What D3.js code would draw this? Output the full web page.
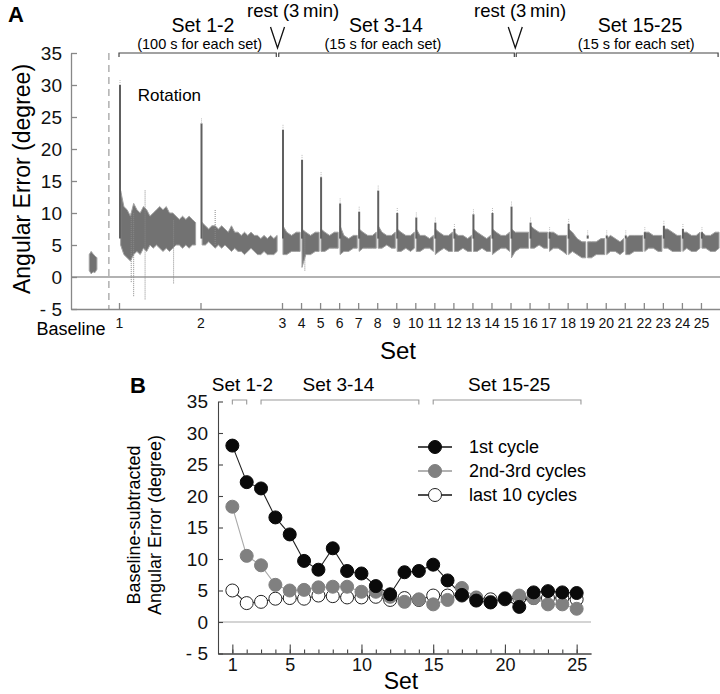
<!DOCTYPE html>
<html>
<head>
<meta charset="utf-8">
<script src="https://cdn.jsdelivr.net/npm/d3@7"></script>
<style>
body { margin: 0; background: #fff; }
svg { font-family: Arial, "Liberation Sans", sans-serif; }
</style>
</head>
<body>
<div id="chart"></div>
<script>
/* angular error over sets: raw trace (A) and per-set summary (B) */

// ---- panel A data ----
const setTicks = [1,2,3,4,5,6,7,8,9,10,11,12,13,14,15,16,17,18,19,20,21,22,23,24,25];
const yTicks = [-5,0,5,10,15,20,25,30,35];

// baseline block (position in set units, before set 1)
const baseT  = [0.38, 0.42, 0.46, 0.50, 0.54];
const baseLo = [1, 0.5, 0.8, 0.7, 1.2];
const baseHi = [3.5, 4, 3.6, 3.3, 3];

// sets 1-2 (100 s each): offsets within the set
const longOffsets = [0.02,0.06,0.10,0.14,0.18,0.22,0.26,0.30,0.34,0.38,0.42,0.46,
                     0.50,0.54,0.58,0.62,0.66,0.70,0.74,0.78,0.82,0.86,0.90,0.94];
const set1Lo = [5,3.5,3,2.5,3.5,4,3.5,4.5,4,5,4.5,5,4.5,4,4.5,4,4.5,5,5,4.5,5,4.5,5,5];
const set1Hi = [13.5,11,10.5,9.5,11.5,10.5,10,11,10.5,9.5,10,10.5,11,10.5,11,10,10,9.5,9,9.5,9,9.5,9,8.5];
const set2Lo = [5,5,5.5,5,4.5,5,4.5,5,4.5,4,4.5,4,4,3.5,4,4.5,4,3.5,3.5,4,3.5,3.5,3.5,4];
const set2Hi = [8.5,8,7.5,8,8,7.5,8,7.5,7,8,7,7,6.5,7,6.5,7,6.5,6.5,6,6.5,6,6.5,6,6.5];

// sets 3-25 (15 s each)
const shortOffsets = [0.05, 0.25, 0.5, 0.75, 0.95];
const shortLo = [
  [3.5,3.5,4,4,4], [1.5,3.5,3.5,4,4], [4,4,4.5,4.5,4.5], [3.5,4,4,4.5,4.5],
  [4,4.5,4.5,4.5,4.5], [4.5,4.5,5,4.5,4.5], [4,4,4.5,4,4.5], [4,4,4.5,4.5,4],
  [3.5,4,4.5,4,4], [4,4,4.5,4,4], [4,4,4.5,4,4], [3.5,4,4.5,4.5,4],
  [3,4,4.5,4.5,4.5], [4.5,4.5,5,4.5,4.5], [4,4.5,4.5,4,3.5], [3.5,4,3.5,3,3],
  [3,3,3.5,3.5,3.5], [3.5,4,4,3.5,4], [3.5,3.5,4,4,4], [4,4.5,4.5,4,4],
  [4.5,4.5,4,4,4], [4,4.5,4,4,4.5], [4.5,4.5,4,4,4.5]
];
const shortHi = [
  [8,7,6.5,7,7], [7.5,7,6.5,7,7], [7.5,7,6.5,7,7], [8,6.5,6,6.5,6.5],
  [7.5,7,6.5,6.5,7], [8,7,6.5,6.5,7], [7.5,7,6.5,6.5,7], [7.5,6.5,6.5,6,6.5],
  [7.5,7,6.5,6.5,7], [7,6.5,6.5,6,6.5], [7.5,7,6.5,6,6.5], [7.5,7,6.5,6.5,7],
  [7.5,7,7,7,7], [8,7.5,7,7,7], [7,7,6.5,6.5,6.5], [7.5,7,6,5.5,5.5],
  [5.5,5.5,5.5,6,6], [6,6.5,6,5.5,6], [6,6.5,6.5,6.5,6.5], [7,7,6.5,6.5,6.5],
  [7.5,7.5,7,6.5,6.5], [7,7,6.5,6.5,7], [7,6.5,6.5,7,7]
];

// error spike at the start of each set
const setPeaks = [30,24,23,18.3,15.6,11.5,10.2,13.5,10,9.3,8.5,7.5,9.8,10,11,8.5,7,8.3,6.5,6.5,6.5,7,8,7.5,7];

// isolated outliers
const outT  = [1.15, 1.18, 1.32, 1.67, 2.18, 4.2];
const outLo = [-0.8, -3, -3.5, -1, 5, 1];
const outHi = [10, 10, 13.6, 9, 10.5, 7];

// ---- panel B data ----
const setsB = [1,2,3,4,5,6,7,8,9,10,11,12,13,14,15,16,17,18,19,20,21,22,23,24,25];
const firstCycle = [28,22.2,21.2,16.6,13.9,9.7,8.3,11.7,8.1,7.7,5.7,4.4,7.9,8.1,9.1,6.6,4.3,3.4,3.1,3.7,2.4,4.7,4.9,4.7,4.6];
const secondThird = [18.3,10.5,9,5.9,5,5.1,5.5,5.6,5.6,4.8,4.8,4,3.2,3.6,2.8,3.5,5.4,3.9,3.2,3.8,4.2,3.8,2.8,2.8,2.1];
const lastTen = [5,3,3.2,3.7,3.8,3.7,4.2,4.1,3.9,3.9,4,3.5,3.8,3.5,4.2,4.2,4.2,3.8,3.6,3.6,3.8,3.8,3.8,3.8,3.6];
const yTicksB = [-5,0,5,10,15,20,25,30,35];
const majorB = [1,5,10,15,20,25];

const width = 720, height = 694;

let svg = d3.select("#chart")
    .append("svg")
    .attr("width", width)
    .attr("height", height);

const fmtTick = d => d < 0 ? "- " + Math.abs(d) : d;

// ================= panel A =================
const marginA = {top: 53, right: 0, bottom: 386, left: 71};

let xA = d3.scaleLinear()
    .domain([0, 1, 3, 26])
    .range([marginA.left, 119, 282, width]);

let yA = d3.scaleLinear()
    .domain([-5, 35])
    .range([height - marginA.bottom + 1, marginA.top]);

let gA = svg.append("g");

// zero line
gA.append("line")
    .attr("x1", xA(0)).attr("x2", xA(26))
    .attr("y1", yA(0)).attr("y2", yA(0))
    .attr("stroke", "#999").attr("stroke-width", 1.5);

// dashed divider between baseline and rotation
gA.append("line")
    .attr("x1", xA(0.79)).attr("x2", xA(0.79))
    .attr("y1", yA(35)).attr("y2", yA(-5))
    .attr("stroke", "#888").attr("stroke-dasharray", "7,5");

// build trace segments
let segments = [];
segments.push(baseT.map((t, i) => ({t: t, lo: baseLo[i], hi: baseHi[i]})));
segments.push(longOffsets.map((o, i) => ({t: 1 + o, lo: set1Lo[i], hi: set1Hi[i]})));
segments.push(longOffsets.map((o, i) => ({t: 2 + o, lo: set2Lo[i], hi: set2Hi[i]})));
shortLo.forEach((lo, s) => {
    segments.push(shortOffsets.map((o, i) => ({t: 3 + s + o, lo: lo[i], hi: shortHi[s][i]})));
});

let band = d3.area()
    .x(d => xA(d.t))
    .y0(d => yA(d.lo))
    .y1(d => yA(d.hi));

gA.selectAll(".seg")
    .data(segments)
    .join("path")
    .attr("class", "seg")
    .attr("d", band)
    .attr("fill", "#727272")
    .attr("stroke", "#a0a0a0")
    .attr("stroke-width", 1);

// outliers
gA.selectAll(".out")
    .data(outT)
    .join("line")
    .attr("class", "out")
    .attr("x1", d => xA(d)).attr("x2", d => xA(d))
    .attr("y1", (d, i) => yA(outLo[i]))
    .attr("y2", (d, i) => yA(outHi[i]))
    .attr("stroke", "#8a8a8a")
    .attr("stroke-width", 1)
    .attr("stroke-dasharray", "1,1");

// onset spikes
gA.selectAll(".peak")
    .data(setPeaks)
    .join("line")
    .attr("class", "peak")
    .attr("x1", (d, i) => xA(i + 1) + 1).attr("x2", (d, i) => xA(i + 1) + 1)
    .attr("y1", yA(6))
    .attr("y2", d => yA(d))
    .attr("stroke", "#606060")
    .attr("stroke-width", 2);

gA.selectAll(".peakTip")
    .data(setPeaks)
    .join("line")
    .attr("class", "peakTip")
    .attr("x1", (d, i) => xA(i + 1) + 1).attr("x2", (d, i) => xA(i + 1) + 1)
    .attr("y1", d => yA(d))
    .attr("y2", d => yA(d) - 6)
    .attr("stroke", "#bbb")
    .attr("stroke-width", 1)
    .attr("stroke-dasharray", "1,1");

// axes
let axA_y = gA.append("g")
    .attr("transform", `translate(${marginA.left},0)`)
    .call(d3.axisLeft(yA).tickValues(yTicks).tickSizeInner(-6).tickSizeOuter(0)
        .tickPadding(9).tickFormat(fmtTick));
axA_y.selectAll("text").style("font-size", "19px").attr("fill", "#111");

let axA_x = gA.append("g")
    .attr("transform", `translate(0,${yA(-5)})`)
    .call(d3.axisBottom(xA).tickValues(setTicks).tickSizeInner(-6).tickSizeOuter(0)
        .tickPadding(9));
axA_x.selectAll("text").style("font-size", "14px").attr("fill", "#111");

gA.selectAll(".domain, .tick line").attr("stroke", "#888").attr("stroke-width", 1.3);

gA.append("text")
    .attr("x", xA(0)).attr("y", yA(-5) + 26)
    .attr("text-anchor", "middle")
    .style("font-size", "18px")
    .text("Baseline");

gA.append("text")
    .attr("x", 398).attr("y", 359)
    .attr("text-anchor", "middle")
    .style("font-size", "24px")
    .text("Set");

gA.append("text")
    .attr("transform", `translate(30,${(yA(35) + yA(-5)) / 2 - 2}) rotate(-90)`)
    .attr("text-anchor", "middle")
    .style("font-size", "23px")
    .text("Angular Error (degree)");

gA.append("text")
    .attr("x", 8).attr("y", 22)
    .style("font-size", "22px").style("font-weight", "bold")
    .text("A");

gA.append("text")
    .attr("x", xA(1.23)).attr("y", yA(27.5))
    .style("font-size", "17px")
    .text("Rotation");

// top brackets, labels and rest marks
const bracketsA = [[1, 2.93], [2.96, 15.2], [15.3, 25.9]];
bracketsA.forEach(b => {
    gA.append("path")
        .attr("d", `M${xA(b[0])},${yA(35) + 4}V${yA(35)}H${xA(b[1])}V${yA(35) + 4}`)
        .attr("fill", "none").attr("stroke", "#444").attr("stroke-width", 1.2);
});

const restA = [2.945, 15.25];
restA.forEach(r => {
    let cx = xA(r);
    gA.append("path")
        .attr("d", `M${cx - 7},27L${cx},48L${cx + 7},27`)
        .attr("fill", "none").attr("stroke", "#111").attr("stroke-width", 1.3);
});

const annA = [
    {u: 3.58, y: 17, size: 18.5, t: "rest (3\u2009min)"},
    {u: 15.5, y: 17, size: 18.5, t: "rest (3\u2009min)"},
    {u: 2.03, y: 32, size: 19.5, t: "Set 1-2"},
    {u: 8.46, y: 32, size: 19.5, t: "Set 3-14"},
    {u: 21.8, y: 32, size: 19.5, t: "Set 15-25"},
    {u: 1.99, y: 49, size: 14.5, t: "(100 s for each set)"},
    {u: 8.3, y: 49, size: 14.5, t: "(15 s for each set)"},
    {u: 21.6, y: 49, size: 14.5, t: "(15 s for each set)"}
];
gA.selectAll(".ann")
    .data(annA)
    .join("text")
    .attr("class", "ann")
    .attr("x", d => xA(d.u)).attr("y", d => d.y)
    .attr("text-anchor", "middle")
    .style("font-size", d => d.size + "px")
    .text(d => d.t);

// ================= panel B =================
let xB = d3.scaleLinear()
    .domain([0, 26])
    .range([218, 591]);

let yB = d3.scaleLinear()
    .domain([-5, 35])
    .range([653.5, 401.5]);

let gB = svg.append("g");

gB.append("line")
    .attr("x1", xB(0)).attr("x2", xB(26))
    .attr("y1", yB(0)).attr("y2", yB(0))
    .attr("stroke", "#aaa").attr("stroke-width", 1.2);

let axB_y = gB.append("g")
    .attr("transform", `translate(${xB(0)},0)`)
    .call(d3.axisLeft(yB).tickValues(yTicksB).tickSizeInner(-5).tickSizeOuter(0)
        .tickPadding(10).tickFormat(fmtTick));
axB_y.selectAll("text").style("font-size", "19px").attr("fill", "#111");

gB.append("g")
    .attr("transform", `translate(0,${yB(-5)})`)
    .call(d3.axisBottom(xB).tickValues(setsB).tickSizeInner(-4).tickSizeOuter(0)
        .tickFormat(""));

let axB_x = gB.append("g")
    .attr("transform", `translate(0,${yB(-5)})`)
    .call(d3.axisBottom(xB).tickValues(majorB).tickSizeInner(-9).tickSizeOuter(0)
        .tickPadding(5));
axB_x.selectAll("text").style("font-size", "18px").attr("fill", "#111");

gB.selectAll(".domain, .tick line").attr("stroke", "#444").attr("stroke-width", 1.1);

gB.append("text")
    .attr("x", 401).attr("y", 689)
    .attr("text-anchor", "middle")
    .style("font-size", "23px")
    .text("Set");

let yTitleB = gB.append("text")
    .attr("transform", `translate(140,525) rotate(-90)`)
    .attr("text-anchor", "middle")
    .style("font-size", "18px");
yTitleB.append("tspan").attr("x", 0).attr("dy", 0).text("Baseline-subtracted");
yTitleB.append("tspan").attr("x", 0).attr("dy", 21).text("Angular Error (degree)");

gB.append("text")
    .attr("x", 130).attr("y", 393)
    .style("font-size", "22px").style("font-weight", "bold")
    .text("B");

// set brackets
const bracketsB = [[1, 2, "Set 1-2", 1.7], [3, 14, "Set 3-14", 8.4], [15, 25.3, "Set 15-25", 20.3]];
bracketsB.forEach(b => {
    gB.append("path")
        .attr("d", `M${xB(b[0])},${yB(35) + 3}V${yB(35) - 1.5}H${xB(b[1])}V${yB(35) + 3}`)
        .attr("fill", "none").attr("stroke", "#999").attr("stroke-width", 1.1);
    gB.append("text")
        .attr("x", xB(b[3])).attr("y", 391)
        .attr("text-anchor", "middle")
        .style("font-size", "19px")
        .text(b[2]);
});

// series
const seriesB = [
    {name: "last 10 cycles", vals: lastTen, fill: "#fff", stroke: "#222", line: "#333"},
    {name: "2nd-3rd cycles", vals: secondThird, fill: "#808080", stroke: "#808080", line: "#aaa"},
    {name: "1st cycle", vals: firstCycle, fill: "#0a0a0a", stroke: "#0a0a0a", line: "#222"}
];

let lineB = d3.line()
    .x((d, i) => xB(setsB[i]))
    .y(d => yB(d));

seriesB.forEach(s => {
    gB.append("path")
        .attr("d", lineB(s.vals))
        .attr("fill", "none")
        .attr("stroke", s.line)
        .attr("stroke-width", 1.1);
});
seriesB.forEach(s => {
    gB.selectAll(null)
        .data(s.vals)
        .join("circle")
        .attr("cx", (d, i) => xB(setsB[i]))
        .attr("cy", d => yB(d))
        .attr("r", 6.5)
        .attr("fill", s.fill)
        .attr("stroke", s.stroke)
        .attr("stroke-width", 1);
});

// legend
const legendB = [seriesB[2], seriesB[1], seriesB[0]];
let leg = gB.selectAll(".leg")
    .data(legendB)
    .join("g")
    .attr("class", "leg")
    .attr("transform", (d, i) => `translate(418,${447 + i * 24})`);

leg.append("line")
    .attr("x1", 0).attr("x2", 34)
    .attr("stroke", d => d.line === "#aaa" ? "#999" : "#111")
    .attr("stroke-width", 1.3);

leg.append("circle")
    .attr("cx", 17).attr("r", 6.5)
    .attr("fill", d => d.fill)
    .attr("stroke", d => d.stroke);

leg.append("text")
    .attr("x", 51).attr("y", 6)
    .style("font-size", "18px")
    .text(d => d.name);
</script>
</body>
</html>
